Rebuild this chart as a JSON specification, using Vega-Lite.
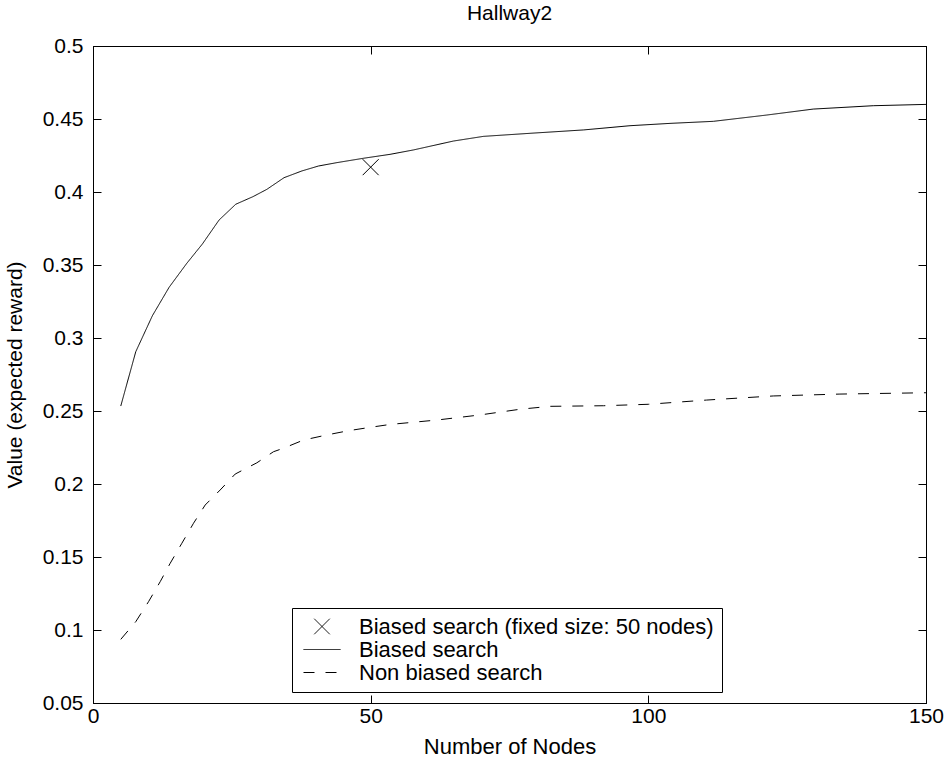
{
  "$schema": "https://vega.github.io/schema/vega-lite/v6.json",
  "width": 833,
  "height": 657,
  "autosize": {"type": "none"},
  "padding": {"left": 93, "top": 46, "right": 22, "bottom": 59},
  "background": "white",
  "title": {"text": "Hallway2", "fontSize": 21, "font": "Liberation Sans", "fontWeight": "normal", "color": "black", "offset": 11},
  "datasets": {
    "curves": [
      {"nodes": 5, "value": 0.2534, "series": "Biased search"},
      {"nodes": 7.7, "value": 0.2906, "series": "Biased search"},
      {"nodes": 10.7, "value": 0.3153, "series": "Biased search"},
      {"nodes": 13.7, "value": 0.3347, "series": "Biased search"},
      {"nodes": 16.9, "value": 0.3512, "series": "Biased search"},
      {"nodes": 19.7, "value": 0.3644, "series": "Biased search"},
      {"nodes": 22.7, "value": 0.3808, "series": "Biased search"},
      {"nodes": 25.7, "value": 0.3916, "series": "Biased search"},
      {"nodes": 28.8, "value": 0.3968, "series": "Biased search"},
      {"nodes": 31.3, "value": 0.4018, "series": "Biased search"},
      {"nodes": 34.4, "value": 0.4098, "series": "Biased search"},
      {"nodes": 37.6, "value": 0.4144, "series": "Biased search"},
      {"nodes": 40.6, "value": 0.4178, "series": "Biased search"},
      {"nodes": 43.9, "value": 0.4201, "series": "Biased search"},
      {"nodes": 48.7, "value": 0.4231, "series": "Biased search"},
      {"nodes": 53.5, "value": 0.4258, "series": "Biased search"},
      {"nodes": 57.7, "value": 0.4288, "series": "Biased search"},
      {"nodes": 64.9, "value": 0.4349, "series": "Biased search"},
      {"nodes": 70.3, "value": 0.4381, "series": "Biased search"},
      {"nodes": 78.7, "value": 0.4402, "series": "Biased search"},
      {"nodes": 88.3, "value": 0.4425, "series": "Biased search"},
      {"nodes": 96.7, "value": 0.4454, "series": "Biased search"},
      {"nodes": 103.9, "value": 0.447, "series": "Biased search"},
      {"nodes": 111.7, "value": 0.4484, "series": "Biased search"},
      {"nodes": 121.3, "value": 0.4527, "series": "Biased search"},
      {"nodes": 129.7, "value": 0.4568, "series": "Biased search"},
      {"nodes": 140.5, "value": 0.4591, "series": "Biased search"},
      {"nodes": 150, "value": 0.46, "series": "Biased search"},
      {"nodes": 5, "value": 0.0936, "series": "Non biased search"},
      {"nodes": 7.7, "value": 0.1057, "series": "Non biased search"},
      {"nodes": 10, "value": 0.1194, "series": "Non biased search"},
      {"nodes": 12.1, "value": 0.1331, "series": "Non biased search"},
      {"nodes": 13.9, "value": 0.1457, "series": "Non biased search"},
      {"nodes": 16, "value": 0.1594, "series": "Non biased search"},
      {"nodes": 18.1, "value": 0.1731, "series": "Non biased search"},
      {"nodes": 20.2, "value": 0.1856, "series": "Non biased search"},
      {"nodes": 22.9, "value": 0.1959, "series": "Non biased search"},
      {"nodes": 25.6, "value": 0.2068, "series": "Non biased search"},
      {"nodes": 29.5, "value": 0.2145, "series": "Non biased search"},
      {"nodes": 32.5, "value": 0.2221, "series": "Non biased search"},
      {"nodes": 34.3, "value": 0.2245, "series": "Non biased search"},
      {"nodes": 37.9, "value": 0.2301, "series": "Non biased search"},
      {"nodes": 42.1, "value": 0.2336, "series": "Non biased search"},
      {"nodes": 46, "value": 0.2365, "series": "Non biased search"},
      {"nodes": 49.9, "value": 0.2388, "series": "Non biased search"},
      {"nodes": 53.5, "value": 0.2408, "series": "Non biased search"},
      {"nodes": 61.9, "value": 0.2438, "series": "Non biased search"},
      {"nodes": 69.7, "value": 0.2473, "series": "Non biased search"},
      {"nodes": 76.9, "value": 0.2512, "series": "Non biased search"},
      {"nodes": 82.3, "value": 0.2532, "series": "Non biased search"},
      {"nodes": 91.9, "value": 0.2536, "series": "Non biased search"},
      {"nodes": 100, "value": 0.2546, "series": "Non biased search"},
      {"nodes": 110.5, "value": 0.2575, "series": "Non biased search"},
      {"nodes": 122.5, "value": 0.2603, "series": "Non biased search"},
      {"nodes": 134.5, "value": 0.2616, "series": "Non biased search"},
      {"nodes": 150, "value": 0.2625, "series": "Non biased search"}
    ],
    "marker": [
      {"nodes": 50, "value": 0.417, "series": "Biased search (fixed size: 50 nodes)"}
    ]
  },
  "layer": [
    {
      "data": {"name": "curves"},
      "mark": {"type": "line", "color": "black", "strokeWidth": 1},
      "encoding": {
        "x": {
          "field": "nodes", "type": "quantitative",
          "scale": {"domain": [0, 150], "nice": false, "zero": false},
          "axis": {"orient": "bottom", "values": [0, 50, 100, 150], "title": "Number of Nodes", "titleFontSize": 22, "tickSize": -8, "labelPadding": 10, "titlePadding": 10, "labelFlush": false, "labelOverlap": false}
        },
        "y": {
          "field": "value", "type": "quantitative",
          "scale": {"domain": [0.05, 0.5], "nice": false, "zero": false},
          "axis": {"orient": "left", "values": [0.05, 0.1, 0.15, 0.2, 0.25, 0.3, 0.35, 0.4, 0.45, 0.5], "format": ".2~f", "title": "Value (expected reward)", "tickSize": -8, "labelPadding": 18, "titlePadding": 17, "labelFlush": false, "labelOverlap": false}
        },
        "strokeDash": {
          "field": "series", "type": "nominal",
          "scale": {
            "domain": ["Biased search (fixed size: 50 nodes)", "Biased search", "Non biased search"],
            "range": [[1, 0], [1, 0], [11, 11]]
          },
          "legend": {
            "orient": "none", "legendX": 199, "legendY": 562, "title": null, "direction": "vertical",
            "strokeColor": "black", "fillColor": "white", "padding": 8, "cornerRadius": 0,
            "labelFontSize": 22, "labelFont": "Liberation Sans", "labelColor": "black", "labelLimit": 0, "labelOffset": 18,
            "symbolSize": 1369, "symbolStrokeWidth": 1, "symbolStrokeColor": "black", "symbolType": "stroke", "symbolOffset": 3,
            "rowPadding": 0, "clipHeight": 21,
            "encode": {
              "symbols": {
                "update": {
                  "shape": {"signal": "datum.value === 'Biased search (fixed size: 50 nodes)' ? 'M-0.42,-0.42L0.42,0.42M-0.42,0.42L0.42,-0.42' : 'stroke'"}
                }
              }
            }
          }
        }
      }
    },
    {
      "data": {"name": "marker"},
      "mark": {"type": "point", "shape": "M-1,-1L1,1M-1,1L1,-1", "size": 256, "filled": false, "color": "black", "strokeWidth": 1, "opacity": 1},
      "encoding": {
        "x": {
          "field": "nodes", "type": "quantitative",
          "axis": {"orient": "top", "values": [0, 50, 100, 150], "title": null, "labels": false, "tickSize": -8}
        },
        "y": {
          "field": "value", "type": "quantitative",
          "axis": {"orient": "right", "values": [0.05, 0.1, 0.15, 0.2, 0.25, 0.3, 0.35, 0.4, 0.45, 0.5], "title": null, "labels": false, "tickSize": -8}
        }
      }
    }
  ],
  "resolve": {"axis": {"x": "independent", "y": "independent"}},
  "config": {
    "axis": {
      "labelFont": "Liberation Sans", "titleFont": "Liberation Sans",
      "labelFontSize": 21, "titleFontSize": 21, "titleFontWeight": "normal",
      "labelColor": "black", "titleColor": "black",
      "domainColor": "black", "tickColor": "black", "domainWidth": 1, "tickWidth": 1, "grid": false
    },
    "view": {"stroke": "black"}
  }
}
